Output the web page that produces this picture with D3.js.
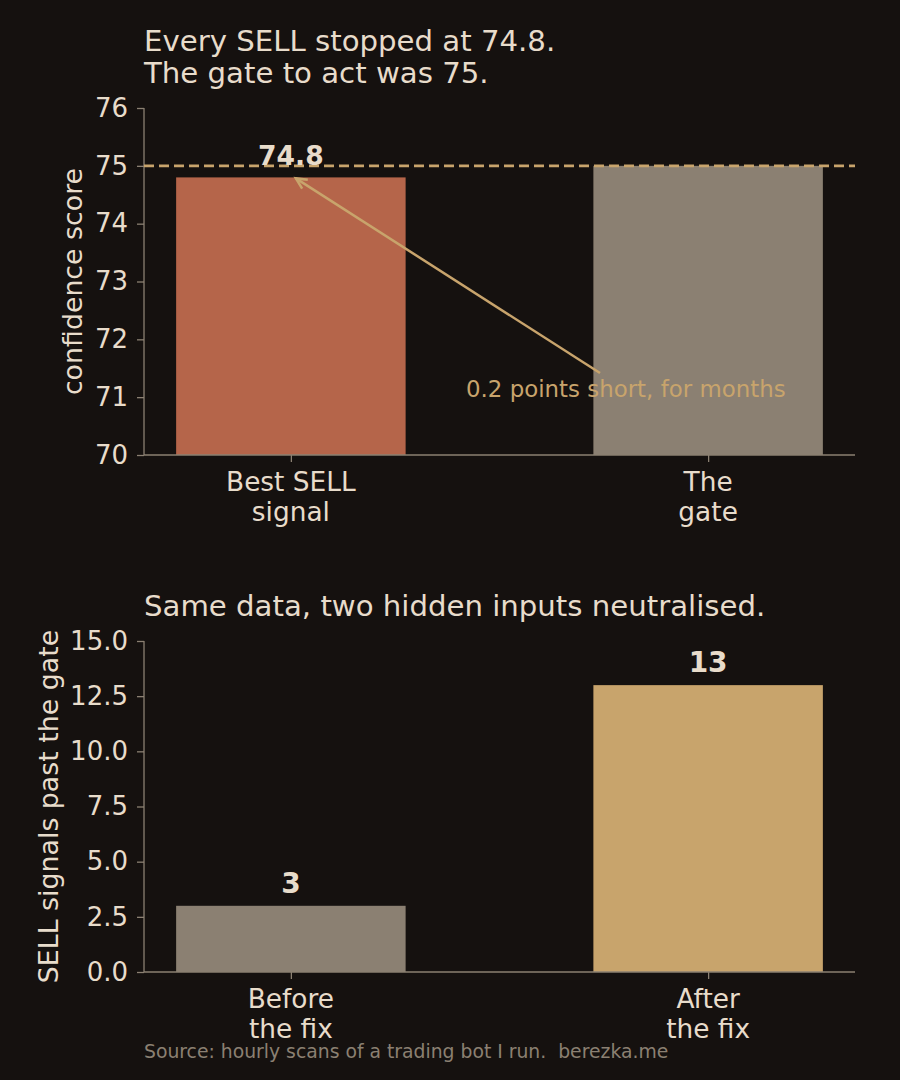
<!doctype html>
<head>
  <script src="https://cdnjs.cloudflare.com/ajax/libs/d3/7.8.5/d3.min.js"></script>
  <style>
    body { margin: 0; background: #15110f; }
    svg { display: block; font-family: "DejaVu Sans", sans-serif; }
  </style>
</head>
<body>
  <svg width="900" height="1080"></svg>
  <script type="text/javascript">
    // top panel
    var topCats = [["Best SELL", "signal"], ["The", "gate"]]
    var topVals = [74.8, 75]
    var topTicks = [70, 71, 72, 73, 74, 75, 76]
    var gateValue = 75
    // bottom panel
    var botCats = [["Before", "the fix"], ["After", "the fix"]]
    var botVals = [3, 13]
    var botTicks = [0, 2.5, 5, 7.5, 10, 12.5, 15]

    var bg = "#15110f", ink = "#e8dccb", grey = "#8b8072", gold = "#c8a46c", rust = "#b5654a"
    var svg = d3.select("svg")
    svg.append("rect").attr("width", 900).attr("height", 1080).attr("fill", bg)

    var x = d3.scaleLinear().domain([-0.352, 1.352]).range([144, 855])
    var bw = x(0.55) - x(0)

    function panel(opts) {
      var g = svg.append("g")
      var y = d3.scaleLinear().domain(opts.domain).range(opts.range)

      g.selectAll("rect.bar").data(opts.vals).enter().append("rect")
        .attr("x", (d, i) => x(i) - bw / 2)
        .attr("width", bw)
        .attr("y", d => y(d))
        .attr("height", d => y(opts.domain[0]) - y(d))
        .attr("fill", (d, i) => opts.colors[i])

      var ya = g.append("g").attr("transform", "translate(144,0)")
        .call(d3.axisLeft(y).tickValues(opts.ticks).tickFormat(opts.fmt).tickSize(7).tickPadding(9))
      var xa = g.append("g").attr("transform", "translate(0," + y(opts.domain[0]) + ")")
        .call(d3.axisBottom(x).tickValues([0, 1]).tickFormat("").tickSize(7))
      ;[ya, xa].forEach(a => {
        a.select(".domain").attr("stroke", grey).attr("stroke-width", 1.3)
        a.selectAll(".tick line").attr("stroke", grey).attr("stroke-width", 1.3)
        a.selectAll(".tick text").attr("fill", ink).attr("font-size", 26)
          .attr("font-family", "DejaVu Sans")
      })
      ya.select(".domain").attr("d", "M0," + opts.range[1] + "V" + opts.range[0])
      xa.select(".domain").attr("d", "M144,0H855")

      opts.cats.forEach((c, i) => {
        var t = g.append("text").attr("x", x(i)).attr("y", y(opts.domain[0]) + 36)
          .attr("text-anchor", "middle").attr("fill", ink).attr("font-size", 26.4)
        c.forEach((line, j) => t.append("tspan").attr("x", x(i)).attr("dy", j ? 30 : 0).text(line))
      })

      g.append("text")
        .attr("transform", "translate(" + opts.ylabX + "," + (opts.range[0] + opts.range[1]) / 2 + ") rotate(-90)")
        .attr("text-anchor", "middle").attr("fill", ink).attr("font-size", 26.8)
        .text(opts.ylabel)

      var t = g.append("text").attr("x", 144).attr("y", opts.titleY)
        .attr("fill", ink).attr("font-size", 29.2)
      opts.title.forEach((line, j) => t.append("tspan").attr("x", 144).attr("dy", j ? 32 : 0).text(line))
      return { g: g, y: y }
    }

    var p1 = panel({
      domain: [70, 76], range: [455, 108], vals: topVals, ticks: topTicks, fmt: d3.format("d"),
      colors: [rust, grey], cats: topCats, ylabel: "confidence score", ylabX: 82,
      title: ["Every SELL stopped at 74.8.", "The gate to act was 75."], titleY: 51
    })

    // gate line
    p1.g.append("line").attr("x1", 144).attr("x2", 855)
      .attr("y1", p1.y(gateValue)).attr("y2", p1.y(gateValue))
      .attr("stroke", gold).attr("stroke-width", 2.8).attr("stroke-dasharray", "10,5")

    p1.g.append("text").attr("x", x(0)).attr("y", p1.y(topVals[0]) - 12)
      .attr("text-anchor", "middle").attr("fill", ink).attr("font-size", 26.6).attr("font-weight", "bold")
      .text(topVals[0])

    // annotation arrow
    var ax0 = 600, ay0 = 373, ax1 = x(0) + 5, ay1 = p1.y(topVals[0]) + 1
    p1.g.append("line").attr("x1", ax0).attr("y1", ay0).attr("x2", ax1).attr("y2", ay1)
      .attr("stroke", gold).attr("stroke-width", 2.5)
    var ang = Math.atan2(ay0 - ay1, ax0 - ax1)
    var hl = 12, ha = 0.45
    p1.g.append("path")
      .attr("d", "M" + (ax1 + hl * Math.cos(ang - ha)) + "," + (ay1 + hl * Math.sin(ang - ha)) +
        "L" + ax1 + "," + ay1 + "L" + (ax1 + hl * Math.cos(ang + ha)) + "," + (ay1 + hl * Math.sin(ang + ha)))
      .attr("fill", "none").attr("stroke", gold).attr("stroke-width", 2.5)
    p1.g.append("text").attr("x", 466).attr("y", 397).attr("fill", gold).attr("font-size", 22.9)
      .text("0.2 points short, for months")

    var p2 = panel({
      domain: [0, 15], range: [972, 641], vals: botVals, ticks: botTicks, fmt: d3.format(".1f"),
      colors: [grey, gold], cats: botCats, ylabel: "SELL signals past the gate", ylabX: 58,
      title: ["Same data, two hidden inputs neutralised."], titleY: 616
    })
    p2.g.selectAll("text.val").data(botVals).enter().append("text")
      .attr("x", (d, i) => x(i)).attr("y", d => p2.y(d) - 13)
      .attr("text-anchor", "middle").attr("fill", ink).attr("font-size", 28).attr("font-weight", "bold")
      .text(d => d)

    svg.append("text").attr("x", 144).attr("y", 1058).attr("fill", grey).attr("font-size", 18.8)
      .style("white-space", "pre")
      .text("Source: hourly scans of a trading bot I run.  berezka.me")
  </script>
</body>
</html>
